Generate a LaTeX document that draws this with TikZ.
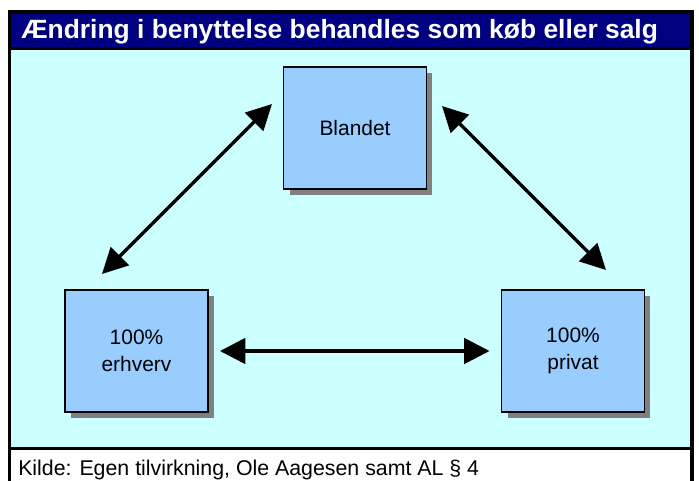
\documentclass[tikz,border=0pt]{standalone}
\usepackage{fontspec}
\setmainfont{Liberation Sans}
\usetikzlibrary{arrows.meta,shadows}
\definecolor{titlenavy}{HTML}{000080}
\definecolor{panelcyan}{HTML}{CCFFFF}
\definecolor{boxblue}{HTML}{99CCFF}
\definecolor{shadowgray}{HTML}{808080}
\begin{document}
\begin{tikzpicture}[x=0.75pt,y=-0.75pt,
  statebox/.style={draw=black, line width=1.2pt, fill=boxblue,
    minimum width=107pt, minimum height=91.5pt, inner sep=0pt,
    align=center, font=\fontsize{15.7}{20}\selectfont,
    drop shadow={shadow xshift=4.5pt, shadow yshift=-4.5pt, fill=shadowgray, opacity=1}},
  link/.style={line width=2.6pt,
    {Triangle[length=19pt,width=19pt]}-{Triangle[length=19pt,width=19pt]}},
  rule/.style={line width=2.6pt, draw=black}]
  % page area
  \useasboundingbox (0,0) rectangle (699,481);
  \fill[white] (0,0) rectangle (699,481);
  % title bar and panel
  \fill[titlenavy] (9.5,12) rectangle (692,48.5);
  \fill[panelcyan] (9.5,48.5) rectangle (692,448.5);
  \draw[rule] (9.5,495) -- (9.5,12) -- (692,12) -- (692,495);
  \draw[rule] (9.5,48.5) -- (692,48.5);
  \draw[rule] (9.5,448.5) -- (692,448.5);
  \node[anchor=base west, inner sep=0pt, text=white,
        font=\bfseries\fontsize{19.8}{24}\selectfont] (title) at (21,39)
        {Ændring i benyttelse behandles som køb eller salg};
  % the three states
  \node[statebox] (bl)  at (355,128)   {Blandet};
  \node[statebox] (erh) at (136.5,351) {100\%\\erhverv};
  \node[statebox] (pri) at (573,351)   {100\%\\privat};
  % transitions
  \coordinate (l1) at (102,274);
  \coordinate (l2) at (272,104);
  \coordinate (r1) at (442,106);
  \coordinate (r2) at (606,270);
  \draw[link] (l1) -- (l2);
  \draw[link] (r1) -- (r2);
  \draw[link] ([xshift=8.5pt]erh.east) -- ([xshift=-8.5pt]pri.west);
  % source line
  \node[anchor=base west, inner sep=0pt, font=\fontsize{16}{19}\selectfont] (src) at (18,475)
        {Kilde: Egen tilvirkning, Ole Aagesen samt AL § 4};
\end{tikzpicture}
\end{document}
